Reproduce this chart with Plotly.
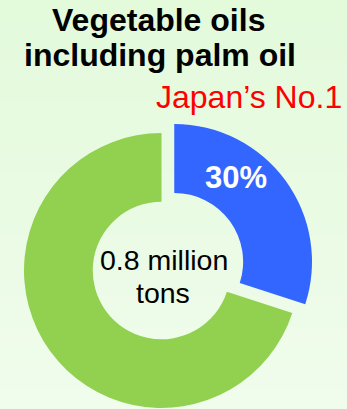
import plotly.graph_objects as go

# Share of vegetable oil (incl. palm oil) — Japan's No.1
categories = ["Japan's No.1", "Others"]
shares = [30, 70]
total_label = ["0.8 million", "tons"]
title_lines = ["Vegetable oils", "including palm oil"]
highlight_text = "Japan\u2019s No.1"

BLUE = "#3366FF"
GREEN = "#92D050"
CLEAR = "rgba(0,0,0,0)"

W, H = 347, 409

fig = go.Figure()

# Main ring: the "Others" slice drawn in place
fig.add_trace(go.Pie(
    labels=categories, values=shares, sort=False, direction="clockwise",
    rotation=0, hole=0.5, textinfo="none", hoverinfo="skip",
    marker=dict(colors=[CLEAR, GREEN], line=dict(width=0)),
    domain=dict(x=[24 / W, 299 / W], y=[1 - 408 / H, 1 - 133 / H]),
    showlegend=False,
))

# Highlighted slice, offset up and to the right (exploded)
fig.add_trace(go.Pie(
    labels=categories, values=shares, sort=False, direction="clockwise",
    rotation=0, hole=0.5, textinfo="none", hoverinfo="skip",
    marker=dict(colors=[BLUE, CLEAR], line=dict(width=0)),
    domain=dict(x=[36.5 / W, 312 / W], y=[1 - 399.5 / H, 1 - 124 / H]),
    showlegend=False,
))

# Soft vertical gradient background
top = (227, 250, 219)
bot = (240, 252, 236)
n = 40
shapes = []
for i in range(n):
    t = i / (n - 1)
    c = tuple(round(top[k] + (bot[k] - top[k]) * t) for k in range(3))
    shapes.append(dict(
        type="rect", xref="paper", yref="paper", layer="below",
        x0=0, x1=1, y0=1 - (i + 1) / n, y1=1 - i / n + 0.001,
        fillcolor="rgb(%d,%d,%d)" % c, line=dict(width=0),
    ))

def ann(text, x, y, size, color="black", bold=False):
    return dict(
        text=f"<b>{text}</b>" if bold else text,
        x=x / W, y=1 - y / H, xref="paper", yref="paper",
        xanchor="center", yanchor="middle", showarrow=False,
        font=dict(family="Liberation Sans, Arial, sans-serif", size=size, color=color),
    )

annotations = [
    ann(title_lines[0], 158.7, 20.0, 32, bold=True),
    ann(title_lines[1], 160, 55.0, 32, bold=True),
    ann(highlight_text, 248.6, 97.3, 32, color="#FF0000"),
    ann(f"{shares[0]}%", 235.8, 177.4, 31, color="white", bold=True),
    ann(total_label[0], 164.3, 259.5, 28.5),
    ann(total_label[1], 163.3, 292.9, 28.5),
]

fig.update_layout(
    width=W, height=H,
    margin=dict(l=0, r=0, t=0, b=0),
    paper_bgcolor="rgb(233,251,227)",
    plot_bgcolor="rgba(0,0,0,0)",
    shapes=shapes,
    annotations=annotations,
)

fig.write_html("out.html")
